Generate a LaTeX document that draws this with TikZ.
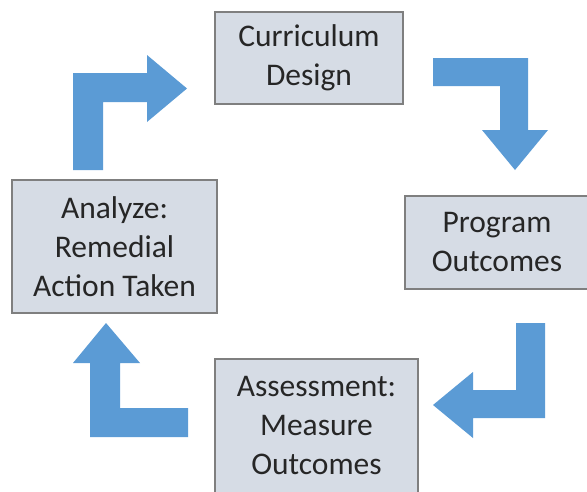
\documentclass[tikz,border=0pt]{standalone}
\usepackage{fontspec}
\setmainfont{Carlito}
\definecolor{boxfill}{HTML}{D6DCE5}
\definecolor{boxline}{HTML}{7F7F7F}
\definecolor{arrowblue}{HTML}{5B9BD5}
\definecolor{txt}{HTML}{262626}
\tikzset{
  stagebox/.style={draw=boxline, line width=1.6pt, fill=boxfill, inner sep=0pt,
    align=center, text=txt, font=\fontsize{31.5}{39}\selectfont},
  blockarrow/.style={fill=arrowblue, draw=none}
}
\begin{document}
\begin{tikzpicture}[x=1pt,y=-1pt]
\useasboundingbox (0,0) rectangle (587,491);
% boxes
\node[stagebox, minimum width=188pt, minimum height=92pt] (cd) at (309,58) {Curriculum\\Design};
\node[stagebox, minimum width=184pt, minimum height=93pt] (po) at (497,242.5) {Program\\Outcomes};
\node[stagebox, minimum width=205pt, minimum height=133pt] (an) at (114.5,246.5) {Analyze:\\Remedial\\Action Taken};
\node[stagebox, minimum width=203pt, minimum height=134pt] (as) at (316.5,426) {Assessment:\\Measure\\Outcomes};
% block arrows
\fill[blockarrow] (73,170) -- (73,73) -- (147,73) -- (147,55) -- (187,88.5) -- (147,122) -- (147,102) -- (103,102) -- (103,170) -- cycle;
\fill[blockarrow] (433,58) -- (528,58) -- (528,130) -- (548,130) -- (515,170) -- (482,130) -- (500,130) -- (500,86) -- (433,86) -- cycle;
\fill[blockarrow] (545,323) -- (545,418) -- (473,418) -- (473,438) -- (433,405) -- (473,372) -- (473,390) -- (516,390) -- (516,323) -- cycle;
\fill[blockarrow] (188,437) -- (90,437) -- (90,363) -- (73,363) -- (106,323) -- (140,363) -- (120,363) -- (120,408) -- (188,408) -- cycle;
\end{tikzpicture}
\end{document}
